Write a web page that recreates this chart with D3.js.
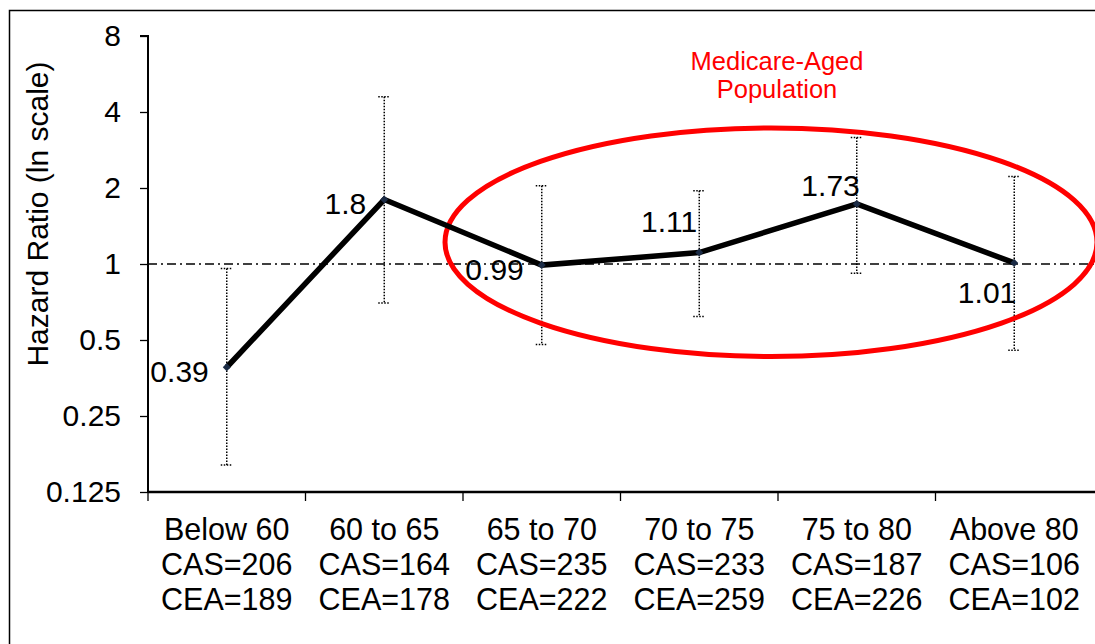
<!DOCTYPE html>
<html>
<head>
<meta charset="utf-8">
<script src="https://cdn.jsdelivr.net/npm/d3@7"></script>
<style>
  body { margin: 0; background: #fff; }
  svg { display: block; font-family: "Liberation Sans", Arial, sans-serif; }
</style>
</head>
<body>
<div id="chart"></div>
<script>
// values
const categories = ["Below 60", "60 to 65", "65 to 70", "70 to 75", "75 to 80", "Above 80"];
const casCounts = [206, 164, 235, 233, 187, 106];
const ceaCounts = [189, 178, 222, 259, 226, 102];
const hazardRatios = [0.39, 1.8, 0.99, 1.11, 1.73, 1.01];
const upperCI = [0.96, 4.6, 2.04, 1.95, 3.17, 2.22];
const lowerCI = [0.16, 0.70, 0.48, 0.62, 0.92, 0.455];
const yTicks = [0.125, 0.25, 0.5, 1, 2, 4, 8];
const labelPlacement = ["left", "left", "left", "aboveLeft", "above", "below"];

const W = 1095, H = 644;
const plot = { left: 148, right: 1093, top: 36, bottom: 492 };

const svg = d3.select("#chart").append("svg")
  .attr("width", W)
  .attr("height", H);

// outer frame (right and bottom edges run off the picture)
svg.append("rect")
  .attr("x", 9.5).attr("y", 10.5)
  .attr("width", W + 10).attr("height", H + 10)
  .attr("fill", "none")
  .attr("stroke", "#000")
  .attr("stroke-width", 1.5);

const x = d3.scaleBand().domain(categories).range([plot.left, plot.right]);
const y = d3.scaleLog().base(2).domain([0.125, 8]).range([plot.bottom, plot.top]);
const cx = (i) => x(categories[i]) + x.bandwidth() / 2;

// y axis
const yAxis = svg.append("g")
  .attr("transform", `translate(${plot.left},0)`)
  .call(d3.axisLeft(y).tickValues(yTicks).tickFormat(d3.format("")).tickSize(8).tickPadding(19));
yAxis.select(".domain").attr("stroke-width", 2).attr("d", `M-8,${plot.top}H0V${plot.bottom}`);
yAxis.selectAll(".tick line").attr("stroke-width", 1.3);
yAxis.selectAll(".tick text")
  .attr("font-size", 30)
  .attr("font-family", "Liberation Sans, Arial, sans-serif")
  .attr("fill", "#000");

// x axis with ticks at band boundaries
const xAxisG = svg.append("g").attr("transform", `translate(0,${plot.bottom})`);
xAxisG.append("line")
  .attr("x1", plot.left).attr("x2", W)
  .attr("stroke", "#000").attr("stroke-width", 2.5);
xAxisG.selectAll(".xtick")
  .data(categories)
  .join("line")
  .attr("class", "xtick")
  .attr("x1", (d) => x(d)).attr("x2", (d) => x(d))
  .attr("y1", 0).attr("y2", 9)
  .attr("stroke", "#000").attr("stroke-width", 1.3);

const catText = xAxisG.selectAll(".xlab")
  .data(categories)
  .join("text")
  .attr("class", "xlab")
  .attr("text-anchor", "middle")
  .attr("font-size", 30.5)
  .attr("fill", "#000");
catText.append("tspan")
  .attr("x", (d, i) => cx(i)).attr("y", 48)
  .text((d) => d);
catText.append("tspan")
  .attr("x", (d, i) => cx(i)).attr("y", 83)
  .text((d, i) => `CAS=${casCounts[i]}`);
catText.append("tspan")
  .attr("x", (d, i) => cx(i)).attr("y", 118)
  .text((d, i) => `CEA=${ceaCounts[i]}`);

// y axis title
svg.append("text")
  .attr("transform", `translate(48,214) rotate(-90)`)
  .attr("text-anchor", "middle")
  .attr("font-size", 30)
  .attr("fill", "#000")
  .text("Hazard Ratio (ln scale)");

// reference line at HR = 1
svg.append("line")
  .attr("x1", plot.left).attr("x2", W)
  .attr("y1", y(1)).attr("y2", y(1))
  .attr("stroke", "#000")
  .attr("stroke-width", 1.4)
  .attr("stroke-dasharray", "9,4,2,4");

// error bars
const eb = svg.append("g")
  .attr("stroke", "#000")
  .attr("stroke-width", 1.5)
  .attr("stroke-dasharray", "1.5,1.5");
categories.forEach((c, i) => {
  eb.append("line")
    .attr("x1", cx(i)).attr("x2", cx(i))
    .attr("y1", y(upperCI[i])).attr("y2", y(lowerCI[i]));
  [upperCI[i], lowerCI[i]].forEach((v) => {
    eb.append("line")
      .attr("x1", cx(i) - 6).attr("x2", cx(i) + 6)
      .attr("y1", y(v)).attr("y2", y(v));
  });
});

// annotation ellipse
const ellLeft = x("65 to 70") - 18, ellRight = plot.right + 4;
const ellTop = y(3.46), ellBottom = y(0.43);
svg.append("ellipse")
  .attr("cx", (ellLeft + ellRight) / 2)
  .attr("cy", (ellTop + ellBottom) / 2)
  .attr("rx", (ellRight - ellLeft) / 2)
  .attr("ry", (ellBottom - ellTop) / 2)
  .attr("fill", "none")
  .attr("stroke", "#ff0000")
  .attr("stroke-width", 5);

const note = svg.append("text")
  .attr("text-anchor", "middle")
  .attr("font-size", 25.5)
  .attr("fill", "#ff0000");
note.append("tspan").attr("x", 777).attr("y", 70).text("Medicare-Aged");
note.append("tspan").attr("x", 777).attr("y", 98).text("Population");

// hazard ratio line
const line = d3.line()
  .x((d, i) => cx(i))
  .y((d) => y(d));
svg.append("path")
  .datum(hazardRatios)
  .attr("d", line)
  .attr("fill", "none")
  .attr("stroke", "#000")
  .attr("stroke-width", 5.5)
  .attr("stroke-linejoin", "miter");

svg.selectAll(".marker")
  .data(hazardRatios)
  .join("path")
  .attr("class", "marker")
  .attr("d", d3.symbol(d3.symbolDiamond2, 40))
  .attr("transform", (d, i) => `translate(${cx(i)},${y(d)})`)
  .attr("fill", "#1b2b45");

// value labels
const offsets = {
  left: { dx: -18, dy: 4 },
  aboveLeft: { dx: -2, dy: -31 },
  above: { dx: 3, dy: -18 },
  below: { dx: 2, dy: 30 },
};
svg.selectAll(".vlab")
  .data(hazardRatios)
  .join("text")
  .attr("class", "vlab")
  .attr("x", (d, i) => cx(i) + offsets[labelPlacement[i]].dx)
  .attr("y", (d, i) => y(d) + offsets[labelPlacement[i]].dy)
  .attr("text-anchor", "end")
  .attr("dominant-baseline", "central")
  .attr("font-size", 30)
  .attr("fill", "#000")
  .text((d) => d);
</script>
</body>
</html>
